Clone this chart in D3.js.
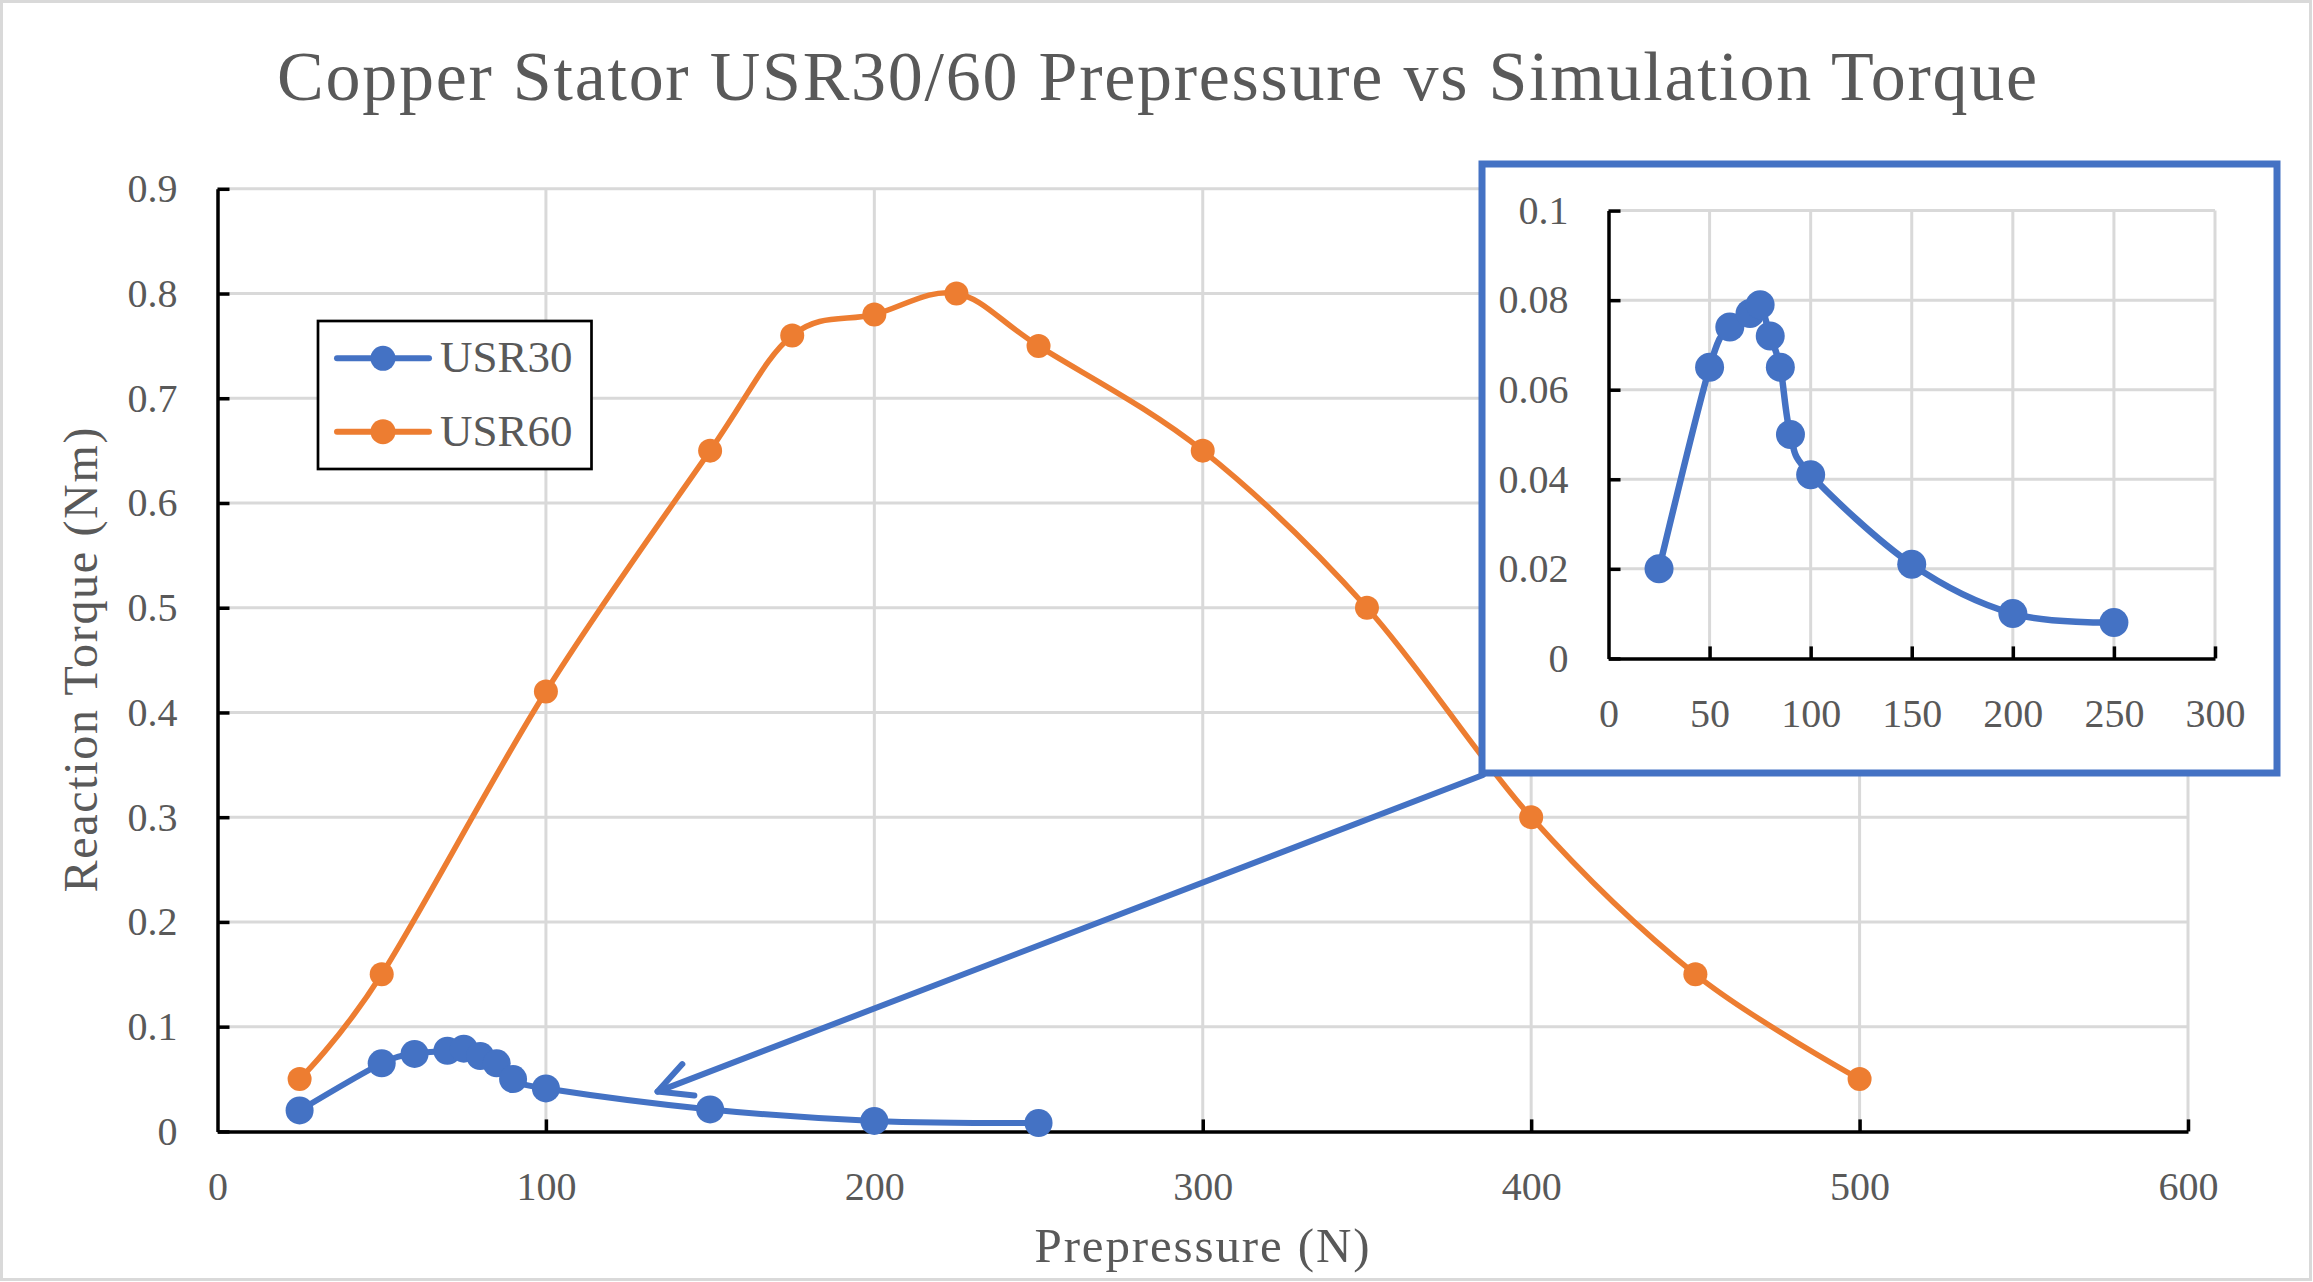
<!DOCTYPE html>
<html><head><meta charset="utf-8">
<script src="https://cdn.jsdelivr.net/npm/d3@7/dist/d3.min.js"></script>
<style>body{margin:0;background:#fff;overflow:hidden}</style>
</head><body>
<script>
// ---------------- data ----------------
const titleText = "Copper Stator USR30/60 Prepressure vs Simulation Torque";
const xTitle = "Prepressure (N)";
const yTitle = "Reaction Torque (Nm)";
const seriesNames = ["USR30", "USR60"];
const usr30X = [25, 50, 60, 70, 75, 80, 85, 90, 100, 150, 200, 250];
const usr30Y = [0.020, 0.065, 0.074, 0.077, 0.079, 0.072, 0.065, 0.050, 0.041, 0.021, 0.010, 0.008];
const usr60X = [25, 50, 100, 150, 175, 200, 225, 250, 300, 350, 400, 450, 500];
const usr60Y = [0.05, 0.15, 0.42, 0.65, 0.76, 0.78, 0.80, 0.75, 0.65, 0.50, 0.30, 0.15, 0.05];
const mainXTicks = [0, 100, 200, 300, 400, 500, 600];
const mainYTicks = [0, 0.1, 0.2, 0.3, 0.4, 0.5, 0.6, 0.7, 0.8, 0.9];
const mainYLabels = ["0", "0.1", "0.2", "0.3", "0.4", "0.5", "0.6", "0.7", "0.8", "0.9"];
const insetXTicks = [0, 50, 100, 150, 200, 250, 300];
const insetYTicks = [0, 0.02, 0.04, 0.06, 0.08, 0.1];
const insetYLabels = ["0", "0.02", "0.04", "0.06", "0.08", "0.1"];
const arrowTarget = [134, 0.038];

// ---------------- style ----------------
const W = 2313, H = 1282;
const blue = "#4472C4", orange = "#ED7D31", grid = "#d9d9d9", txt = "#595959";
const FONT = "'Liberation Serif','Times New Roman',serif";

const svg = d3.select("body").append("svg").attr("width", W).attr("height", H)
  .style("font-family", FONT);
svg.append("rect").attr("x", 0).attr("y", 0).attr("width", W).attr("height", H).attr("fill", "#fff");
svg.append("rect").attr("x", 1.5).attr("y", 1.5).attr("width", W - 4).attr("height", H - 4)
  .attr("fill", "none").attr("stroke", grid).attr("stroke-width", 3);

// title
svg.append("text").attr("x", 1157).attr("y", 100).attr("text-anchor", "middle")
  .attr("font-size", 70).attr("fill", txt).attr("textLength", 1760).attr("lengthAdjust", "spacing")
  .text(titleText);

// ---------------- main plot ----------------
const x = d3.scaleLinear().domain([0, 600]).range([217.5, 2188]);
const y = d3.scaleLinear().domain([0, 0.9]).range([1131.4, 188.8]);

function drawGrid(g, xs, ys, xt, yt) {
  g.selectAll("line.gx").data(xt.filter(v => v !== xs.domain()[0])).join("line")
    .attr("x1", d => xs(d)).attr("x2", d => xs(d))
    .attr("y1", ys.range()[0]).attr("y2", ys.range()[1])
    .attr("stroke", grid).attr("stroke-width", 3);
  g.selectAll("line.gy").data(yt.filter(v => v !== ys.domain()[0])).join("line")
    .attr("x1", xs.range()[0]).attr("x2", xs.range()[1])
    .attr("y1", d => ys(d)).attr("y2", d => ys(d))
    .attr("stroke", grid).attr("stroke-width", 3);
}
function styleAxis(g, fs) {
  g.select(".domain").attr("stroke", "#000").attr("stroke-width", 3.5);
  g.selectAll(".tick line").attr("stroke", "#000").attr("stroke-width", 3.5);
  g.selectAll(".tick text").attr("fill", txt).attr("font-size", fs).style("font-family", FONT);
}

const mainG = svg.append("g");
drawGrid(mainG.append("g"), x, y, mainXTicks, mainYTicks);

const xAxis = mainG.append("g").attr("transform", `translate(0,${y(0)})`)
  .call(d3.axisBottom(x).tickValues(mainXTicks).tickSizeInner(-12).tickSizeOuter(0).tickPadding(40).tickFormat(d3.format("d")));
styleAxis(xAxis, 40);
xAxis.selectAll(".tick").filter(d => d === 0).select("line").remove();
const yAxis = mainG.append("g").attr("transform", `translate(${x(0)},0)`)
  .call(d3.axisLeft(y).tickValues(mainYTicks).tickSizeInner(-12).tickSizeOuter(0).tickPadding(40)
    .tickFormat((d, i) => mainYLabels[i]));
styleAxis(yAxis, 40);

// axis titles
svg.append("text").attr("x", 1202).attr("y", 1262).attr("text-anchor", "middle")
  .attr("font-size", 49).attr("fill", txt).attr("textLength", 335).attr("lengthAdjust", "spacing").text(xTitle);
svg.append("text").attr("transform", "translate(97,660) rotate(-90)").attr("text-anchor", "middle")
  .attr("font-size", 48).attr("fill", txt).attr("textLength", 465).attr("lengthAdjust", "spacing").text(yTitle);

const curve = d3.curveCardinal.tension(0);
const d30 = usr30X.map((v, i) => [v, usr30Y[i]]);
const d60 = usr60X.map((v, i) => [v, usr60Y[i]]);

function drawSeries(g, data, xs, ys, color, lw, r) {
  g.append("path").datum(data).attr("fill", "none").attr("stroke", color).attr("stroke-width", lw)
    .attr("stroke-linejoin", "round").attr("stroke-linecap", "round")
    .attr("d", d3.line().x(d => xs(d[0])).y(d => ys(d[1])).curve(curve));
  g.selectAll(null).data(data).join("circle")
    .attr("cx", d => xs(d[0])).attr("cy", d => ys(d[1])).attr("r", r).attr("fill", color);
}
drawSeries(mainG.append("g"), d30, x, y, blue, 6, 14);
drawSeries(mainG.append("g"), d60, x, y, orange, 5.5, 12);

// legend
const leg = svg.append("g");
leg.append("rect").attr("x", 318).attr("y", 321).attr("width", 273.5).attr("height", 148)
  .attr("fill", "#fff").attr("stroke", "#000").attr("stroke-width", 2.7);
[[blue, 358.3], [orange, 431.7]].forEach(([c, ly], i) => {
  leg.append("line").attr("x1", 337).attr("x2", 429).attr("y1", ly).attr("y2", ly)
    .attr("stroke", c).attr("stroke-width", 6).attr("stroke-linecap", "round");
  leg.append("circle").attr("cx", 383).attr("cy", ly).attr("r", 12.5).attr("fill", c);
  leg.append("text").attr("x", 440).attr("y", ly + 14).attr("font-size", 45).attr("fill", txt)
    .text(seriesNames[i]);
});

// ---------------- inset ----------------
const box = {x0: 1482, y0: 164, x1: 2277, y1: 773};
const ix = d3.scaleLinear().domain([0, 300]).range([1608.5, 2215]);
const iy = d3.scaleLinear().domain([0, 0.1]).range([658.4, 210.6]);

// arrow (from inset corner to the USR30 tail)
const start = [box.x0 + 1, box.y1 + 2];
const tip = [x(arrowTarget[0]), y(arrowTarget[1])];
const ang = Math.atan2(start[1] - tip[1], start[0] - tip[0]);
const hl = 37, ha = 27 * Math.PI / 180;
const arrowG = svg.append("g").attr("fill", "none").attr("stroke", blue).attr("stroke-width", 6)
  .attr("stroke-linecap", "round").attr("stroke-linejoin", "round");
arrowG.append("path").attr("d", d3.line()([start, tip]));
arrowG.append("path").attr("d", d3.line()([
  [tip[0] + hl * Math.cos(ang - ha), tip[1] + hl * Math.sin(ang - ha)], tip,
  [tip[0] + hl * Math.cos(ang + ha), tip[1] + hl * Math.sin(ang + ha)]]));

const insG = svg.append("g");
insG.append("rect").attr("x", box.x0).attr("y", box.y0).attr("width", box.x1 - box.x0).attr("height", box.y1 - box.y0)
  .attr("fill", "#fff").attr("stroke", blue).attr("stroke-width", 7);
drawGrid(insG.append("g"), ix, iy, insetXTicks, insetYTicks);
const ixAxis = insG.append("g").attr("transform", `translate(0,${iy(0)})`)
  .call(d3.axisBottom(ix).tickValues(insetXTicks).tickSizeInner(-12).tickSizeOuter(0).tickPadding(40).tickFormat(d3.format("d")));
styleAxis(ixAxis, 40);
ixAxis.selectAll(".tick").filter(d => d === 0).select("line").remove();
const iyAxis = insG.append("g").attr("transform", `translate(${ix(0)},0)`)
  .call(d3.axisLeft(iy).tickValues(insetYTicks).tickSizeInner(-12).tickSizeOuter(0).tickPadding(40)
    .tickFormat((d, i) => insetYLabels[i]));
styleAxis(iyAxis, 40);
drawSeries(insG.append("g"), d30, ix, iy, blue, 6.5, 14.5);
</script>
</body></html>
